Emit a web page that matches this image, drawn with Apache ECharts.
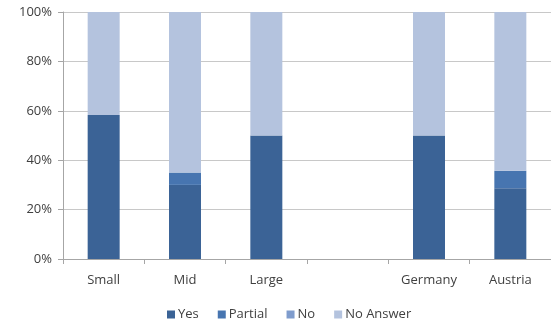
<!DOCTYPE html>
<html>
<head>
<meta charset="utf-8">
<script src="https://cdn.jsdelivr.net/npm/echarts@6/dist/echarts.min.js"></script>
<style>
  html, body { margin: 0; padding: 0; background: #fff; }
  #chart { width: 551px; height: 326px; }
</style>
</head>
<body>
<div id="chart"></div>
<script>
// Survey answers as share of respondents per group (percent)
const categories = ['Small', 'Mid', 'Large', '', 'Germany', 'Austria'];
const yesValues      = [58.3, 30.0, 50.0, null, 50.0, 28.6];
const partialValues  = [0,     5.0,  0,   null,  0,    7.1];
const noValues       = [0,     0,    0,   null,  0,    0];
const noAnswerValues = [41.7, 65.0, 50.0, null, 50.0, 64.3];
const seriesNames = ['Yes', 'Partial', 'No', 'No Answer'];
const seriesColors = ['#3B6396', '#4775B0', '#7F9CCD', '#B4C3DE'];

const font = '"Open Sans", Lato, sans-serif';
const valueSets = [yesValues, partialValues, noValues, noAnswerValues];

const chart = echarts.init(document.getElementById('chart'));
chart.setOption({
  animation: false,
  textStyle: { fontFamily: font },
  grid: { left: 63, top: 12, width: 491, height: 247, containLabel: false },
  legend: {
    data: seriesNames,
    bottom: 0,
    left: 162,
    itemWidth: 8,
    itemHeight: 8,
    itemGap: 19,
    icon: 'rect',
    textStyle: { fontFamily: font, fontSize: 13, color: '#404040', padding: [0, 0, 0, -2] }
  },
  xAxis: {
    type: 'category',
    data: categories,
    axisLine: { lineStyle: { color: '#A6A6A6', width: 1 } },
    axisTick: { show: true, length: 5, alignWithLabel: false, lineStyle: { color: '#A6A6A6' } },
    axisLabel: { color: '#404040', fontSize: 13, margin: 15, fontFamily: font }
  },
  yAxis: {
    type: 'value',
    min: 0,
    max: 100,
    interval: 20,
    axisLine: { show: true, lineStyle: { color: '#A6A6A6' } },
    axisTick: { show: true, length: 5, lineStyle: { color: '#A6A6A6' } },
    splitLine: { lineStyle: { color: '#C8C8C8', width: 1 } },
    axisLabel: { formatter: '{value}%', color: '#404040', fontSize: 13, margin: 11, fontFamily: font }
  },
  series: seriesNames.map((name, i) => ({
    name: name,
    type: 'bar',
    stack: 'total',
    barWidth: 32,
    data: valueSets[i],
    itemStyle: { color: seriesColors[i] }
  }))
});
</script>
</body>
</html>
